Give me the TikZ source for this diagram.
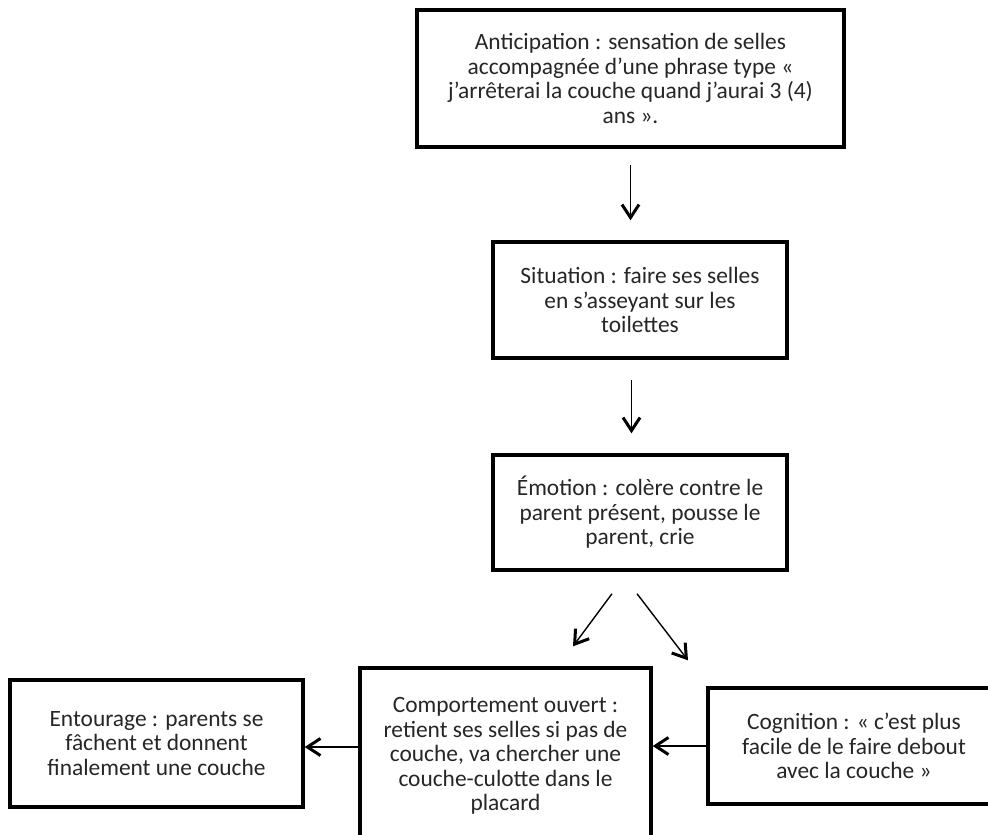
\documentclass[tikz,border=0pt]{standalone}
\usepackage{fontspec}
\setmainfont{Carlito}
\usetikzlibrary{arrows.meta}
\begin{document}
\begin{tikzpicture}[x=1pt,y=-1pt,
  box/.style={draw=black, line width=3.4pt, fill=white, align=center, inner sep=0pt,
    font=\fontsize{23.4}{24.4}\selectfont, text=black!85},
  arr/.style={line width=1.4pt, -{Straight Barb[length=13pt,width=17pt,line width=3pt]}}]
\useasboundingbox (0,0) rectangle (988,835);
\node[box, minimum width=427pt, minimum height=137pt] (a) at (630.5,78.5)
  {Anticipation : sensation de selles\\accompagnée d’une phrase type «\\j’arrêterai la couche quand j’aurai 3 (4)\\ans ».};
\node[box, minimum width=294pt, minimum height=116pt] (b) at (640,300)
  {Situation : faire ses selles\\en s’asseyant sur les\\toilettes};
\node[box, minimum width=294pt, minimum height=115pt] (c) at (640,512.5)
  {Émotion : colère contre le\\parent présent, pousse le\\parent, crie};
\node[box, minimum width=291pt, minimum height=176pt] (d) at (505.5,756)
  {Comportement ouvert :\\retient ses selles si pas de\\couche, va chercher une\\couche-culotte dans le\\placard};
\node[box, minimum width=293pt, minimum height=127pt] (f) at (156.5,743.5)
  {Entourage : parents se\\fâchent et donnent\\finalement une couche};
\node[box, minimum width=292pt, minimum height=116pt] (e) at (854,746)
  {Cognition : « c’est plus\\facile de le faire debout\\avec la couche »};
\draw[arr] ([yshift=-16pt]a.south) -- ([yshift=20pt]a.south |- b.north);
\draw[arr] ([yshift=-20pt,xshift=-8.5pt]b.south) -- ([yshift=20pt,xshift=-8.5pt]b.south |- c.north);
\draw[arr] ([xshift=-28pt,yshift=-22pt]c.south) -- ([xshift=67.5pt,yshift=20pt]d.north);
\draw[arr] ([xshift=-3pt,yshift=-22pt]c.south) -- ([xshift=-166pt,yshift=26pt]e.north);
\draw[arr] ([yshift=9pt]d.west) -- ([yshift=9pt]d.west -| f.east);
\draw[arr] (e.west) -- (e.west -| d.east);
\end{tikzpicture}
\end{document}
